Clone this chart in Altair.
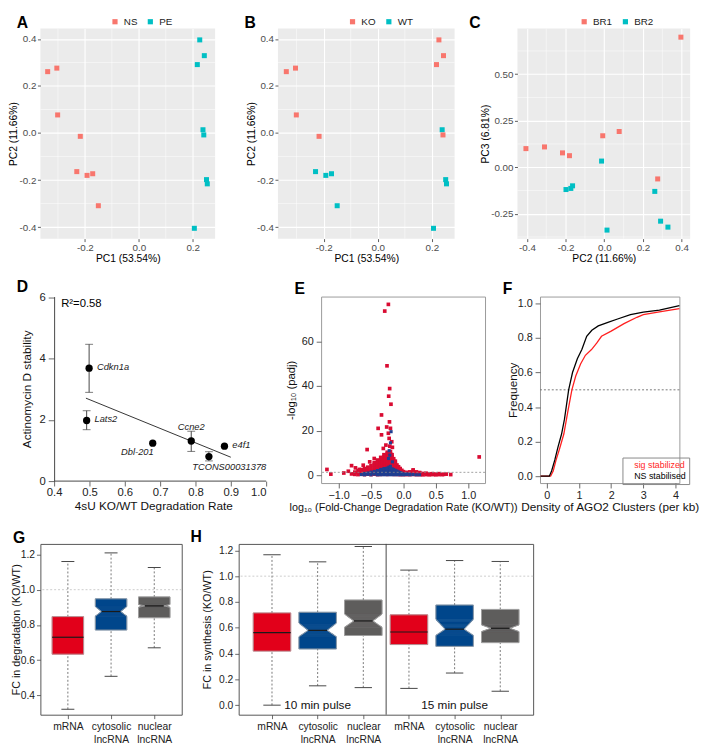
import json
import altair as alt
import pandas as pd

FONT = "Liberation Sans"

# ================= A-C : PCA of 16 samples =================
pc1 = [-0.338, -0.304, -0.301, -0.217, -0.230, -0.192, -0.171, -0.150,
       0.226, 0.243, 0.217, 0.238, 0.241, 0.251, 0.254, 0.206]
pc2 = [0.261, 0.276, 0.077, -0.014, -0.164, -0.180, -0.173, -0.309,
       0.396, 0.329, 0.291, 0.014, -0.008, -0.198, -0.216, -0.405]
pc3 = [-0.130, -0.063, 0.192, 0.033, -0.100, 0.062, -0.114, 0.109,
       0.699, -0.322, -0.290, -0.338, 0.169, -0.120, 0.077, 0.100]
treatment = ["NS", "NS", "NS", "NS", "NS", "NS", "NS", "NS",
             "PE", "PE", "PE", "PE", "PE", "PE", "PE", "PE"]
genotype = ["KO", "KO", "KO", "KO", "WT", "WT", "WT", "WT",
            "KO", "KO", "KO", "WT", "KO", "WT", "WT", "WT"]
batch = ["BR2", "BR1", "BR1", "BR2", "BR2", "BR1", "BR2", "BR1",
         "BR1", "BR2", "BR2", "BR2", "BR1", "BR2", "BR1", "BR1"]
pc_ticks = [-0.4, -0.2, 0.0, 0.2, 0.4]
pc_minor = [-0.3, -0.1, 0.1, 0.3]
pc3_ticks = [-0.25, 0.0, 0.25, 0.5]
pc3_minor = [-0.375, -0.125, 0.125, 0.375, 0.625]
panel_letters = ["A", "B", "C", "D", "E", "F", "G", "H"]

# ================= D : validation =================
d_gene = ["Cdkn1a", "Lats2", "Dbl-201", "Ccne2", "TCONS00031378", "e4f1"]
d_x = [0.499, 0.492, 0.679, 0.788, 0.838, 0.882]
d_y = [3.69, 1.98, 1.24, 1.31, 0.80, 1.14]
err_x = [0.499, 0.492, 0.788, 0.838]
err_lo = [2.90, 1.68, 0.97, 0.66]
err_hi = [4.47, 2.30, 1.63, 0.96]
fit_x = [0.49, 0.90]
fit_y = [2.71, 0.78]
d_note = ["R²=0.58"]
d_xticks = [0.4, 0.5, 0.6, 0.7, 0.8, 0.9, 1.0]
d_yticks = [0, 2, 4, 6]

# ================= E : volcano =================
e_red_col_x = [-0.80, -0.75, -0.70, -0.65, -0.60, -0.55, -0.50, -0.45, -0.40, -0.375,
               -0.35, -0.325, -0.30, -0.275, -0.25, -0.225, -0.20, -0.175, -0.15, -0.125,
               -0.10, -0.075, -0.05, -0.025, 0.00, 0.05, 0.10, 0.15, 0.20, 0.25,
               0.30, 0.35, 0.40, 0.45, 0.50, 0.55, 0.60]
e_red_col_y = [[0.6], [0.4, 1.4], [0.3, 1.2, 2.0], [0.5, 1.5, 2.5], [0.3, 1.2, 2.2, 3.0],
               [0.5, 1.5, 2.5, 3.6], [0.3, 1.2, 2.2, 3.2, 4.3], [0.5, 1.5, 2.6, 3.7, 4.8, 5.6],
               [0.3, 1.2, 2.3, 3.4, 4.5, 5.6, 6.8], [0.8, 2.0, 3.0, 4.0, 5.2, 6.2],
               [0.4, 1.5, 2.6, 3.7, 4.8, 5.9, 7.0, 8.0], [1.0, 2.2, 3.3, 4.4, 5.5, 6.6, 7.6],
               [0.5, 1.6, 2.8, 3.9, 5.0, 6.1, 7.2, 8.3, 9.2], [1.1, 2.3, 3.4, 4.5, 5.6, 6.7, 7.8, 8.8],
               [0.4, 1.6, 2.8, 4.0, 5.1, 6.2, 7.3, 8.4, 9.5, 10.3], [1.0, 2.2, 3.4, 4.6, 5.7, 6.8, 7.9, 9.0, 10.0],
               [0.5, 1.6, 2.8, 4.0, 5.2, 6.3, 7.4, 8.5, 9.6, 10.6], [1.0, 2.2, 3.4, 4.6, 5.8, 7.0, 8.2, 9.2],
               [0.4, 1.5, 2.7, 3.9, 5.0, 6.2, 7.4], [1.0, 2.1, 3.2, 4.3, 5.4, 6.3],
               [0.4, 1.4, 2.5, 3.6, 4.6], [0.9, 1.9, 2.9, 3.8], [0.3, 1.2, 2.2, 3.0], [0.7, 1.6, 2.2],
               [0.3, 1.0, 1.6], [0.3, 0.9, 1.3], [0.3, 0.9, 1.5], [0.4, 1.1, 1.8, 2.4], [0.3, 0.9, 1.5],
               [0.3, 0.9, 1.2], [0.2, 0.8], [0.3, 0.9], [0.2, 0.6], [0.3, 0.7], [0.2, 0.5], [0.3], [0.3]]
e_red_out_x = [-0.232, -0.288, -0.253, -0.212, -0.227, -0.192, -0.338, -0.215, -0.39, -0.258,
               -0.20, -0.338, -0.232, -0.56, -0.22, -0.18, -0.27, -0.21, -0.31, -0.17,
               -1.18, -1.12, -0.85, -0.80, -0.92, -0.74, -0.68, 0.55, 0.62, 0.66, 0.73, 1.17,
               -0.45, -0.52, -0.62]
e_red_out_y = [76.5, 73.5, 49.0, 38.8, 35.4, 31.8, 27.0, 23.9, 21.0, 21.6,
               21.0, 18.1, 18.8, 11.5, 16.5, 15.0, 13.5, 13.0, 12.0, 12.5,
               2.6, 0.5, 1.8, 4.3, 1.0, 3.3, 2.6, 0.7, 0.4, 0.5, 0.3, 8.2,
               7.5, 6.0, 4.5]
e_blue_col_x = [-0.65, -0.60, -0.55, -0.50, -0.45, -0.40, -0.375, -0.35, -0.325, -0.30,
                -0.275, -0.25, -0.225, -0.20, -0.175, -0.15, -0.125, -0.10, -0.075, -0.05,
                -0.025, 0.00, 0.05, 0.10, 0.15, 0.20, 0.25]
e_blue_col_y = [[0.3], [0.2, 0.8], [0.4, 1.0], [0.2, 0.8, 1.4], [0.5, 1.1, 1.7], [0.2, 0.8, 1.4, 2.1],
                [0.5, 1.1, 1.8], [0.2, 0.8, 1.4, 2.0, 2.6], [0.5, 1.1, 1.7, 2.3], [0.2, 0.8, 1.4, 2.0, 2.6, 3.0],
                [0.5, 1.1, 1.7, 2.3, 2.9], [0.2, 0.8, 1.4, 2.0, 2.6, 3.2], [0.5, 1.1, 1.7, 2.3, 2.9, 3.6],
                [0.2, 0.8, 1.4, 2.0, 2.6, 3.2, 4.0], [0.5, 1.1, 1.7, 2.3, 2.9], [0.2, 0.8, 1.4, 2.0, 2.6],
                [0.5, 1.1, 1.7, 2.2], [0.2, 0.8, 1.4, 1.9], [0.5, 1.1, 1.5], [0.2, 0.8, 1.2], [0.5, 0.9],
                [0.2, 0.6], [0.3, 0.6], [0.2, 0.5], [0.3], [0.2], [0.2]]
e_blue_out_x = [-0.22, -0.20, -0.19, -0.23, -0.17, -0.21]
e_blue_out_y = [11.0, 14.5, 19.5, 7.5, 6.0, 9.0]
e_thresh = [1.3]
e_xticks = [-1.0, -0.5, 0.0, 0.5, 1.0]
e_yticks = [0, 20, 40, 60]

# ================= F : ECDF =================
f_groups = ["sig stabilized", "NS stabilised"]
f_black_x = [-0.19, 0.08, 0.15, 0.25, 0.35, 0.46, 0.55, 0.68, 0.8, 0.95, 1.09, 1.24, 1.4, 1.6,
             1.9, 2.2, 2.6, 3.0, 3.5, 4.12]
f_black_y = [0.0, 0.0, 0.03, 0.094, 0.17, 0.244, 0.33, 0.50, 0.60, 0.68, 0.733, 0.81, 0.845,
             0.87, 0.89, 0.91, 0.935, 0.95, 0.962, 0.987]
f_red_x = [-0.19, 0.12, 0.2, 0.29, 0.4, 0.53, 0.65, 0.78, 0.9, 1.05, 1.2, 1.39, 1.55, 1.70,
           2.0, 2.4, 2.8, 3.0, 3.5, 4.12]
f_red_y = [0.0, 0.0, 0.03, 0.094, 0.16, 0.244, 0.37, 0.50, 0.58, 0.65, 0.70, 0.733, 0.77, 0.81,
           0.84, 0.883, 0.92, 0.935, 0.952, 0.97]
f_half = [0.5]
f_xticks = [0, 1, 2, 3, 4]
f_yticks = [0.0, 0.2, 0.4, 0.6, 0.8, 1.0]

# ================= G : FC in degradation =================
g_cats = ["mRNA", "cytosolic|lncRNA", "nuclear|lncRNA"]
g_pos = [1, 2, 3]
g_wlo = [0.321, 0.508, 0.670]
g_q1 = [0.634, 0.771, 0.841]
g_med = [0.730, 0.876, 0.908]
g_q3 = [0.847, 0.948, 0.959]
g_whi = [1.160, 1.209, 1.126]
g_nlo = [0.730, 0.849, 0.900]
g_nhi = [0.730, 0.905, 0.916]
g_yticks = [0.4, 0.6, 0.8, 1.0, 1.2]

# ================= H : FC in synthesis =================
h_cats = ["mRNA", "cytosolic|lncRNA", "nuclear|lncRNA", "mRNA", "cytosolic|lncRNA", "nuclear|lncRNA"]
h_pos = [1, 2, 3, 4, 5, 6]
h_wlo = [0.0, 0.150, 0.136, 0.130, 0.249, 0.108]
h_q1 = [0.419, 0.436, 0.540, 0.470, 0.456, 0.485]
h_med = [0.562, 0.580, 0.653, 0.567, 0.589, 0.596]
h_q3 = [0.715, 0.720, 0.815, 0.700, 0.776, 0.742]
h_whi = [1.166, 1.111, 1.230, 1.047, 1.121, 1.114]
h_nlo = [0.562, 0.530, 0.603, 0.567, 0.540, 0.570]
h_nhi = [0.562, 0.637, 0.707, 0.567, 0.667, 0.623]
h_pulse = ["10 min pulse", "15 min pulse"]
h_pulse_x = [2, 5]
h_pulse_y = [0.0, 0.0]
h_split = [3.5]
h_yticks = [0.0, 0.2, 0.4, 0.6, 0.8, 1.0, 1.2]

BOX_FILLS = ["#E2001A", "#00468B", "#5E5D5C"]
GG_COLORS = ["#F8766D", "#00BFC4"]
E_RED = "#D90B32"
E_BLUE = "#1F3E91"
F_RED = "#FF1F1F"


def letter_layer(t, px, py):
    """Bold panel letter, placed in pixels relative to the panel's plot area."""
    return alt.Chart(pd.DataFrame({"t": [t]})).mark_text(
        align="left", baseline="alphabetic", fontSize=16, fontWeight="bold", font=FONT,
        color="#000000").encode(x=alt.value(px), y=alt.value(py), text="t:N")


def gg_axis(values, fmt, title, **kw):
    base = dict(values=values, title=title, grid=True, gridColor="white",
                gridWidth=1.1, domain=False, ticks=True, tickColor="#333333", tickSize=3,
                tickWidth=0.8, labelColor="#4D4D4D", labelFontSize=10, labelFont=FONT,
                labelPadding=1.5, titleFont=FONT, titleFontSize=10.5, titleFontWeight="normal",
                titleColor="#000000", titlePadding=0.5, labelOverlap=False,
                labelExpr=f"replace(format(datum.value, '{fmt}'), '\u2212', '-')")
    base.update(kw)
    return alt.Axis(**base)


def r_axis(values, title, fmt=None, **kw):
    base = dict(values=values, title=title, grid=False, domain=False, ticks=True,
                tickColor="#444444", tickSize=5, tickWidth=0.8, labelColor="#222222",
                labelFontSize=11, labelFont=FONT, labelPadding=3, titleFont=FONT,
                titleFontSize=12, titleFontWeight="normal", titleColor="#111111", titlePadding=5,
                labelOverlap=False)
    if fmt is not None:
        base["format"] = fmt
    base.update(kw)
    return alt.Axis(**base)


pca = pd.DataFrame({"pc1": pc1, "pc2": pc2, "pc3": pc3, "treatment": treatment,
                    "genotype": genotype, "batch": batch})


def gg_panel(t, tx, xcol, ycol, ccol, xdom, ydom, xticks, yticks, xminor, yminor,
             xfmt, yfmt, xtitle, ytitle, w, h, legx):
    xs = alt.Scale(domain=xdom, nice=False, zero=False)
    ys = alt.Scale(domain=ydom, nice=False, zero=False)
    xa = gg_axis(xticks, xfmt, xtitle)
    ya = gg_axis(yticks, yfmt, ytitle)
    cats = sorted(set(pca[ccol]))
    vmin = alt.Chart(pd.DataFrame({"v": xminor})).mark_rule(color="white", strokeWidth=0.5).encode(
        x=alt.X("v:Q", scale=xs, axis=xa))
    hmin = alt.Chart(pd.DataFrame({"v": yminor})).mark_rule(color="white", strokeWidth=0.5).encode(
        y=alt.Y("v:Q", scale=ys, axis=ya))
    pts = alt.Chart(pca).mark_square(size=26, opacity=1).encode(
        x=alt.X(f"{xcol}:Q", scale=xs, axis=xa),
        y=alt.Y(f"{ycol}:Q", scale=ys, axis=ya),
        color=alt.Color(f"{ccol}:N", scale=alt.Scale(domain=cats, range=GG_COLORS),
                        legend=alt.Legend(orient="none", legendX=legx, legendY=-12, offset=0,
                                          direction="horizontal", title=None, symbolType="square",
                                          symbolSize=28, symbolStrokeWidth=0, labelFontSize=10,
                                          labelFont=FONT, labelColor="#222222", columnPadding=8,
                                          labelOffset=4)))
    return alt.layer(vmin, hmin, pts, letter_layer(t, tx, -1)).properties(
        width=w, height=h, view=alt.ViewBackground(fill="#EBEBEB", stroke=None))


pa = gg_panel(panel_letters[0], -24, "pc1", "pc2", "treatment", [-0.365, 0.283], [-0.449, 0.444],
              pc_ticks, pc_ticks, pc_minor, pc_minor, ".1f", ".1f",
              "PC1 (53.54%)", "PC2 (11.66%)", 178, 214, 71)
pb = gg_panel(panel_letters[1], -34, "pc1", "pc2", "genotype", [-0.369, 0.284], [-0.449, 0.444],
              pc_ticks, pc_ticks, pc_minor, pc_minor, ".1f", ".1f",
              "PC1 (53.54%)", "PC2 (11.66%)", 180, 214, 71)
pcc = gg_panel(panel_letters[2], -49, "pc2", "pc3", "batch", [-0.449, 0.444], [-0.384, 0.745],
               pc_ticks, pc3_ticks, pc_minor, pc3_minor, ".1f", ".2f",
               "PC2 (11.66%)", "PC3 (6.81%)", 176, 214, 63)

# ---------------- D ----------------
D_LEFT_PAD = 14          # px between the plot edge and the y axis (axis sits at x = 0.4)
D_W = 230
dxs = alt.Scale(domain=[0.4 - 0.6 * D_LEFT_PAD / (D_W - D_LEFT_PAD), 1.0], nice=False, zero=False)
dys = alt.Scale(domain=[0, 6.03], nice=False)
d_df = pd.DataFrame({"gene": d_gene, "x": d_x, "y": d_y})
err_df = pd.DataFrame({"x": err_x, "lo": err_lo, "hi": err_hi})
fit_df = pd.DataFrame({"x": fit_x, "y": fit_y})
dxa = r_axis(d_xticks, "4sU KO/WT  Degradation Rate", ".1f", tickSize=5, labelFontSize=11.5,
             labelPadding=1, titlePadding=2, tickColor="#444444")
dya = r_axis(d_yticks, "Actinomycin D stability", "d", domain=True, domainColor="#444444",
             domainWidth=1, tickSize=6, labelFontSize=11.5, offset=-D_LEFT_PAD, titlePadding=6)
d_axis_line = alt.Chart(pd.DataFrame({"x": [min(d_xticks)], "x2": [max(d_xticks)], "y": [0.0]})).mark_rule(
    color="#444444", strokeWidth=1).encode(
    x=alt.X("x:Q", scale=dxs, axis=dxa), x2="x2:Q", y=alt.Y("y:Q", scale=dys, axis=dya))
d_pts = alt.Chart(d_df).mark_circle(size=55, color="#000000", opacity=1).encode(
    x=alt.X("x:Q", scale=dxs, axis=dxa), y=alt.Y("y:Q", scale=dys, axis=dya))
d_err = alt.Chart(err_df).mark_rule(color="#444444", strokeWidth=1).encode(
    x=alt.X("x:Q", scale=dxs, axis=dxa), y=alt.Y("lo:Q", scale=dys, axis=dya), y2="hi:Q")
d_cap_lo = alt.Chart(err_df).mark_tick(orient="horizontal", color="#444444", thickness=1, size=8).encode(
    x=alt.X("x:Q", scale=dxs, axis=dxa), y=alt.Y("lo:Q", scale=dys, axis=dya))
d_cap_hi = alt.Chart(err_df).mark_tick(orient="horizontal", color="#444444", thickness=1, size=8).encode(
    x=alt.X("x:Q", scale=dxs, axis=dxa), y=alt.Y("hi:Q", scale=dys, axis=dya))
d_fit = alt.Chart(fit_df).mark_line(color="#333333", strokeWidth=1).encode(
    x=alt.X("x:Q", scale=dxs, axis=dxa), y=alt.Y("y:Q", scale=dys, axis=dya))


def d_label(genes, **kw):
    return alt.Chart(d_df).transform_filter(
        alt.FieldOneOfPredicate(field="gene", oneOf=genes)).mark_text(
        fontStyle="italic", fontSize=9.5, font=FONT, color="#222222", baseline="middle", **kw).encode(
        x=alt.X("x:Q", scale=dxs, axis=dxa), y=alt.Y("y:Q", scale=dys, axis=dya), text="gene:N")


d_note_df = pd.DataFrame({"t": d_note, "x": [0.42], "y": [5.8]})
d_r2 = alt.Chart(d_note_df).mark_text(align="left", baseline="middle", fontSize=11.5, font=FONT).encode(
    x=alt.X("x:Q", scale=dxs, axis=dxa), y=alt.Y("y:Q", scale=dys, axis=dya), text="t:N")
pd_ = alt.layer(
    d_axis_line, d_err, d_cap_lo, d_cap_hi, d_fit, d_pts,
    d_label(["Cdkn1a", "Lats2", "e4f1"], align="left", dx=8, dy=-1),
    d_label(["Dbl-201"], align="right", dx=1, dy=9),
    d_label(["Ccne2"], align="center", dy=-14),
    d_label(["TCONS00031378"], align="left", dx=-17, dy=11),
    d_r2, letter_layer(panel_letters[3], -24, -5),
).properties(width=D_W, height=188, view=alt.ViewBackground(stroke=None))

# ---------------- E ----------------
exs = alt.Scale(domain=[-1.27, 1.26], nice=False, zero=False)
eys = alt.Scale(domain=[-3.5, 80], nice=False, zero=False)
exa = r_axis(e_xticks, "log₁₀ (Fold-Change Degradation Rate (KO/WT))", ".1f", titleFontSize=11,
             labelPadding=2, titlePadding=1)
eya = r_axis(e_yticks, "-log₁₀ (padj)", "d", titleFontSize=11.5, titlePadding=5)
red_x, red_y = [], []
for cx, cys in zip(e_red_col_x, e_red_col_y):
    for cy in cys:
        red_x.append(cx)
        red_y.append(cy)
red_x += e_red_out_x
red_y += e_red_out_y
blue_x, blue_y = [], []
for cx, cys in zip(e_blue_col_x, e_blue_col_y):
    for cy in cys:
        blue_x.append(cx)
        blue_y.append(cy)
blue_x += e_blue_out_x
blue_y += e_blue_out_y
e_red = alt.Chart(pd.DataFrame({"x": red_x, "y": red_y})).mark_square(size=14, color=E_RED, opacity=1).encode(
    x=alt.X("x:Q", scale=exs, axis=exa), y=alt.Y("y:Q", scale=eys, axis=eya))
e_blue = alt.Chart(pd.DataFrame({"x": blue_x, "y": blue_y})).mark_square(size=10, color=E_BLUE, opacity=1).encode(
    x=alt.X("x:Q", scale=exs, axis=exa), y=alt.Y("y:Q", scale=eys, axis=eya))
e_line = alt.Chart(pd.DataFrame({"y": e_thresh})).mark_rule(color="#888888", strokeDash=[2, 2], strokeWidth=0.8).encode(
    y=alt.Y("y:Q", scale=eys, axis=eya))
pe = alt.layer(e_red, e_blue, e_line, letter_layer(panel_letters[4], -27, -3)).properties(
    width=167, height=190, view=alt.ViewBackground(stroke="#9A9A9A", strokeWidth=1))

# ---------------- F ----------------
fxs = alt.Scale(domain=[-0.21, 4.12], nice=False, zero=False)
fys = alt.Scale(domain=[-0.04, 1.04], nice=False, zero=False)
fxa = r_axis(f_xticks, "Density of AGO2 Clusters (per kb)", "d", labelPadding=2, titlePadding=1)
fya = r_axis(f_yticks, "Frequency", ".1f", titlePadding=-2)
f_df = pd.concat([
    pd.DataFrame({"x": f_red_x, "y": f_red_y, "grp": f_groups[0], "o": list(range(len(f_red_x)))}),
    pd.DataFrame({"x": f_black_x, "y": f_black_y, "grp": f_groups[1], "o": list(range(len(f_black_x)))}),
])
f_label_expr = f"datum.label == '{f_groups[0]}' ? '{F_RED}' : '#000000'"
f_lines = alt.Chart(f_df).mark_line(strokeWidth=1.3).encode(
    x=alt.X("x:Q", scale=fxs, axis=fxa),
    y=alt.Y("y:Q", scale=fys, axis=fya),
    order="o:Q",
    color=alt.Color("grp:N", scale=alt.Scale(domain=f_groups, range=[F_RED, "#000000"]),
                    legend=alt.Legend(orient="none", legendX=84, legendY=164, title=None,
                                      symbolSize=0, symbolOpacity=0, symbolStrokeWidth=0,
                                      labelFontSize=9, labelFont=FONT, labelOffset=0,
                                      labelColor=alt.ExprRef(expr=f_label_expr),
                                      strokeColor="#888888", padding=3, rowPadding=1)))
f_half_rule = alt.Chart(pd.DataFrame({"y": f_half})).mark_rule(color="#777777", strokeDash=[2, 2], strokeWidth=1).encode(
    y=alt.Y("y:Q", scale=fys, axis=fya))
pf = alt.layer(f_half_rule, f_lines, letter_layer(panel_letters[5], -38, -3)).properties(
    width=142, height=190, view=alt.ViewBackground(stroke="#9A9A9A", strokeWidth=1))


# ---------------- G / H boxplots ----------------
NSLICE = 8


def box_chart(cats, pos, wlo, q1, med, q3, whi, nlo, nhi, fills, xdom, ydom, yticks, ytitle,
              hw, capw, inner_frac, w, h, t, tx, ty, ytp, extra=None):
    xs = alt.Scale(domain=xdom, nice=False, zero=False)
    ys = alt.Scale(domain=ydom, nice=False, zero=False)
    label_expr = "split(" + json.dumps(cats) + "[datum.value - 1], '|')"
    ya = r_axis(yticks, ytitle, ".1f", titleFontSize=11, labelFontSize=10.5, titlePadding=ytp,
                tickSize=4, labelPadding=2)
    xa = r_axis(pos, None, None, labelExpr=label_expr, labelFontSize=10.5,
                labelLineHeight=13, labelPadding=3, tickSize=4)
    rects, outline, meds, whisk, caps = [], [], [], [], []
    for i, p in enumerate(pos):
        notched = (nhi[i] - nlo[i]) > 0
        f = inner_frac if notched else 1.0
        if notched:
            rects.append(dict(y=q1[i], y2=nlo[i], xl=p - hw, xr=p + hw, fill=fills[i]))
            rects.append(dict(y=nhi[i], y2=q3[i], xl=p - hw, xr=p + hw, fill=fills[i]))
            for j in range(NSLICE):
                a = nlo[i] + (med[i] - nlo[i]) * j / NSLICE
                b = nlo[i] + (med[i] - nlo[i]) * (j + 1) / NSLICE
                fr = 1 - (1 - f) * (j + 0.5) / NSLICE
                rects.append(dict(y=a, y2=b, xl=p - hw * fr, xr=p + hw * fr, fill=fills[i]))
                a = med[i] + (nhi[i] - med[i]) * j / NSLICE
                b = med[i] + (nhi[i] - med[i]) * (j + 1) / NSLICE
                fr = f + (1 - f) * (j + 0.5) / NSLICE
                rects.append(dict(y=a, y2=b, xl=p - hw * fr, xr=p + hw * fr, fill=fills[i]))
        else:
            rects.append(dict(y=q1[i], y2=q3[i], xl=p - hw, xr=p + hw, fill=fills[i]))
        path = [(p - hw, q1[i]), (p - hw, nlo[i]), (p - hw * f, med[i]), (p - hw, nhi[i]),
                (p - hw, q3[i]), (p + hw, q3[i]), (p + hw, nhi[i]), (p + hw * f, med[i]),
                (p + hw, nlo[i]), (p + hw, q1[i]), (p - hw, q1[i])]
        for k, (px, py) in enumerate(path):
            outline.append(dict(box=i, k=k, x=px, y=py))
        meds.append(dict(xl=p - hw * f, xr=p + hw * f, y=med[i]))
        whisk += [dict(x=p, y=q3[i], y2=whi[i]), dict(x=p, y=wlo[i], y2=q1[i])]
        caps += [dict(xl=p - capw, xr=p + capw, y=whi[i]), dict(xl=p - capw, xr=p + capw, y=wlo[i])]
    ref = alt.Chart(pd.DataFrame({"y": [1.0]})).mark_rule(color="#CCCCCC", strokeDash=[2, 2], strokeWidth=1).encode(
        y=alt.Y("y:Q", scale=ys, axis=ya))
    wk = alt.Chart(pd.DataFrame(whisk)).mark_rule(color="#777777", strokeDash=[2, 2], strokeWidth=1).encode(
        x=alt.X("x:Q", scale=xs, axis=xa), y=alt.Y("y:Q", scale=ys, axis=ya), y2="y2:Q")
    cp = alt.Chart(pd.DataFrame(caps)).mark_rule(color="#444444", strokeWidth=1).encode(
        x=alt.X("xl:Q", scale=xs, axis=xa), x2="xr:Q", y=alt.Y("y:Q", scale=ys, axis=ya))
    bx = alt.Chart(pd.DataFrame(rects)).mark_rect(strokeWidth=0.6, opacity=1).encode(
        x=alt.X("xl:Q", scale=xs, axis=xa), x2="xr:Q",
        y=alt.Y("y:Q", scale=ys, axis=ya), y2="y2:Q",
        fill=alt.Fill("fill:N", scale=None), stroke=alt.Stroke("fill:N", scale=None))
    ol = alt.Chart(pd.DataFrame(outline)).mark_line(color="#A8A8A8", strokeWidth=0.8).encode(
        x=alt.X("x:Q", scale=xs, axis=xa), y=alt.Y("y:Q", scale=ys, axis=ya),
        detail="box:N", order="k:Q")
    md = alt.Chart(pd.DataFrame(meds)).mark_rule(color="#1A1A1A", strokeWidth=1.2).encode(
        x=alt.X("xl:Q", scale=xs, axis=xa), x2="xr:Q", y=alt.Y("y:Q", scale=ys, axis=ya))
    layers = [ref, wk, cp, bx, ol, md]
    if extra is not None:
        layers += extra(xs, ys, xa, ya)
    layers.append(letter_layer(t, tx, ty))
    return alt.layer(*layers).properties(
        width=w, height=h, view=alt.ViewBackground(stroke="#555555", strokeWidth=1))


pg = box_chart(g_cats, g_pos, g_wlo, g_q1, g_med, g_q3, g_whi, g_nlo, g_nhi, BOX_FILLS,
               [0.364, 3.636], [0.29, 1.26], g_yticks, "FC in degradation (KO/WT)",
               0.364, 0.15, 0.6, 144, 174, panel_letters[6], -28, -1, -1)


def h_extra(xs, ys, xa, ya):
    sep = alt.Chart(pd.DataFrame({"x": h_split})).mark_rule(color="#444444", strokeWidth=1).encode(
        x=alt.X("x:Q", scale=xs, axis=xa))
    txt = alt.Chart(pd.DataFrame({"t": h_pulse, "x": h_pulse_x, "y": h_pulse_y})).mark_text(
        fontSize=12, font=FONT, color="#111111", baseline="middle").encode(
        x=alt.X("x:Q", scale=xs, axis=xa), y=alt.Y("y:Q", scale=ys, axis=ya), text="t:N")
    return [sep, txt]


ph = box_chart(h_cats, h_pos, h_wlo, h_q1, h_med, h_q3, h_whi, h_nlo, h_nhi, BOX_FILLS * 2,
               [0.27, 6.72], [-0.074, 1.25], h_yticks, "FC in synthesis (KO/WT)",
               0.41, 0.19, 0.5, 300, 174, panel_letters[7], -49, -2, 6, extra=h_extra)

row1 = alt.hconcat(pa, pb, pcc, spacing=64, bounds="flush").resolve_scale(color="independent")
row2 = alt.hconcat(pd_, pe, pf, spacing=56, bounds="flush").resolve_scale(color="independent")
row3 = alt.hconcat(pg, ph, spacing=58, bounds="flush")

chart = alt.vconcat(row1, row2, row3, spacing=15).resolve_scale(color="independent").properties(
    padding=0).configure(font=FONT)

chart.save("out.html", embed_options={"renderer": "svg", "actions": False})
